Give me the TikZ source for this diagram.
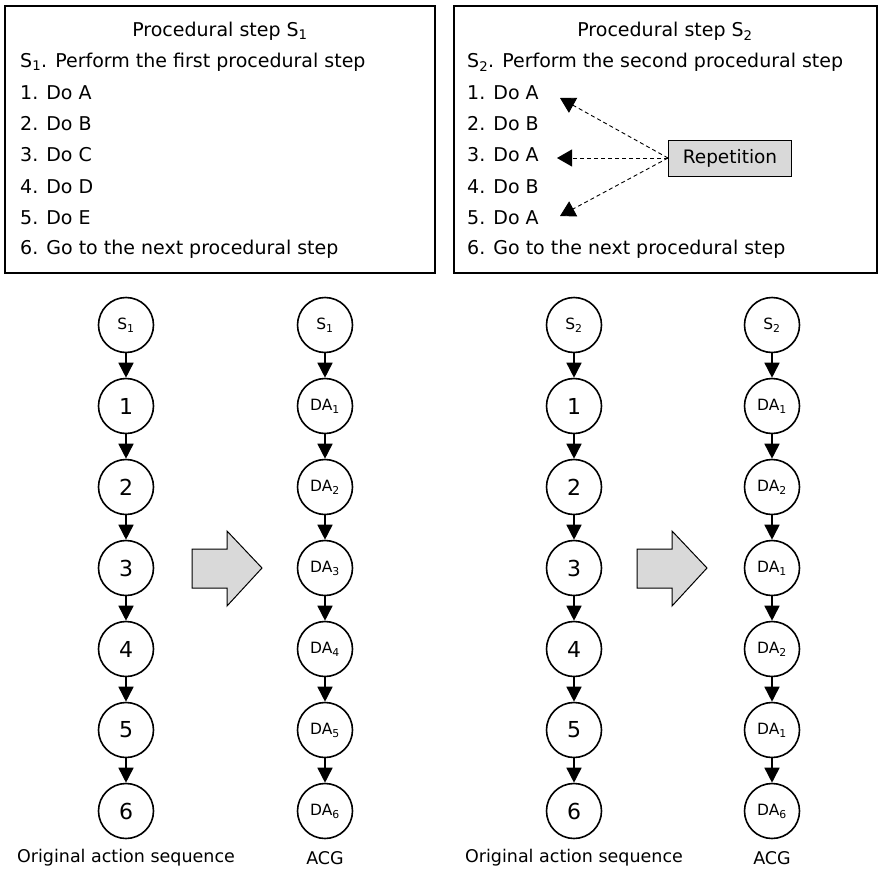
\documentclass[tikz,border=0pt]{standalone}
\usepackage{fontspec}
\setmainfont{DejaVu Sans}
\usetikzlibrary{arrows.meta}
\tikzset{
  stepbox/.style={draw,line width=1.8pt},
  stepline/.style={anchor=west,inner sep=0pt,font=\fontsize{19}{22}\selectfont},
  stepnode/.style={circle,draw,line width=1.6pt,minimum size=55pt,inner sep=0pt,fill=white},
  numlabel/.style={font=\fontsize{22}{26}\selectfont},
  actlabel/.style={font=\fontsize{15.5}{18}\selectfont},
  flow/.style={-{Triangle[length=15pt,width=15pt]},line width=1.6pt},
  reparrow/.style={-{Triangle[length=15pt,width=17pt]},dash pattern=on 4pt off 3pt,line width=0.9pt},
  bigarrow/.style={draw,line width=1pt,fill=gray!30},
  caption/.style={font=\fontsize{17.5}{20}\selectfont}
}
\begin{document}
\begin{tikzpicture}[x=1pt,y=-1pt]
  \useasboundingbox (0,0) rectangle (880,875);
  % procedure boxes
  \draw[stepbox] (5,6) rectangle (435,273);
  \draw[stepbox] (454,6) rectangle (877,273);
  \node[stepline,anchor=center] (t1) at (220,31) {Procedural step S\textsubscript{1}};
  \node[stepline] (p1) at (20,62) {S\textsubscript{1}. Perform the first procedural step};
  \node[stepline] (p1a) at (20,93) {1. Do A};
  \node[stepline] (p1b) at (20,124) {2. Do B};
  \node[stepline] (p1c) at (20,155) {3. Do C};
  \node[stepline] (p1d) at (20,187) {4. Do D};
  \node[stepline] (p1e) at (20,218) {5. Do E};
  \node[stepline] (p1f) at (20,249) {6. Go to the next procedural step};
  \node[stepline,anchor=center] (t2) at (665,31) {Procedural step S\textsubscript{2}};
  \node[stepline] (p2) at (467,62) {S\textsubscript{2}. Perform the second procedural step};
  \node[stepline] (p2a) at (467,93) {1. Do A};
  \node[stepline] (p2b) at (467,124) {2. Do B};
  \node[stepline] (p2c) at (467,155) {3. Do A};
  \node[stepline] (p2d) at (467,187) {4. Do B};
  \node[stepline] (p2e) at (467,218) {5. Do A};
  \node[stepline] (p2f) at (467,249) {6. Go to the next procedural step};
  % repetition
  \node[draw,line width=1pt,fill=gray!30,minimum width=123pt,minimum height=36pt,
    font=\fontsize{18.5}{22}\selectfont] (rep) at (730,158) {Repetition};
  \coordinate (r1) at (560,98);
  \coordinate (r3) at (557,158);
  \coordinate (r5) at (560,216);
  \draw[reparrow] (rep.west) -- (r1);
  \draw[reparrow] (rep.west) -- (r3);
  \draw[reparrow] (rep.west) -- (r5);
  % first sequence
  \node[stepnode,actlabel] (a0) at (126,325) {S\textsubscript{1}};
  \foreach \i/\y in {1/406,2/487,3/568,4/649,5/730,6/811}
    \node[stepnode,numlabel] (a\i) at (126,\y) {\i};
  \node[stepnode,actlabel] (b0) at (325,325) {S\textsubscript{1}};
  \foreach \i/\y in {1/406,2/487,3/568,4/649,5/730,6/811}
    \node[stepnode,actlabel] (b\i) at (325,\y) {DA\textsubscript{\i}};
  % second sequence
  \node[stepnode,actlabel] (c0) at (574,325) {S\textsubscript{2}};
  \foreach \i/\y in {1/406,2/487,3/568,4/649,5/730,6/811}
    \node[stepnode,numlabel] (c\i) at (574,\y) {\i};
  \node[stepnode,actlabel] (d0) at (772,325) {S\textsubscript{2}};
  \foreach \i/\y/\k in {1/406/1,2/487/2,3/568/1,4/649/2,5/730/1,6/811/6}
    \node[stepnode,actlabel] (d\i) at (772,\y) {DA\textsubscript{\k}};
  \foreach \s in {a,b,c,d}
    \foreach \i/\j in {0/1,1/2,2/3,3/4,4/5,5/6}
      \draw[flow] (\s\i) -- (\s\j);
  % transformation arrows
  \foreach \x in {192,637}
    \draw[bigarrow] (\x,549) -- ++(35,0) -- ++(0,-18) -- ++(35,37) -- ++(-35,38)
      -- ++(0,-18) -- ++(-35,0) -- cycle;
  % captions
  \node[caption] (l1) at (126,858) {Original action sequence};
  \node[caption] (l2) at (325,858) {ACG};
  \node[caption] (l3) at (574,858) {Original action sequence};
  \node[caption] (l4) at (772,858) {ACG};
\end{tikzpicture}
\end{document}
